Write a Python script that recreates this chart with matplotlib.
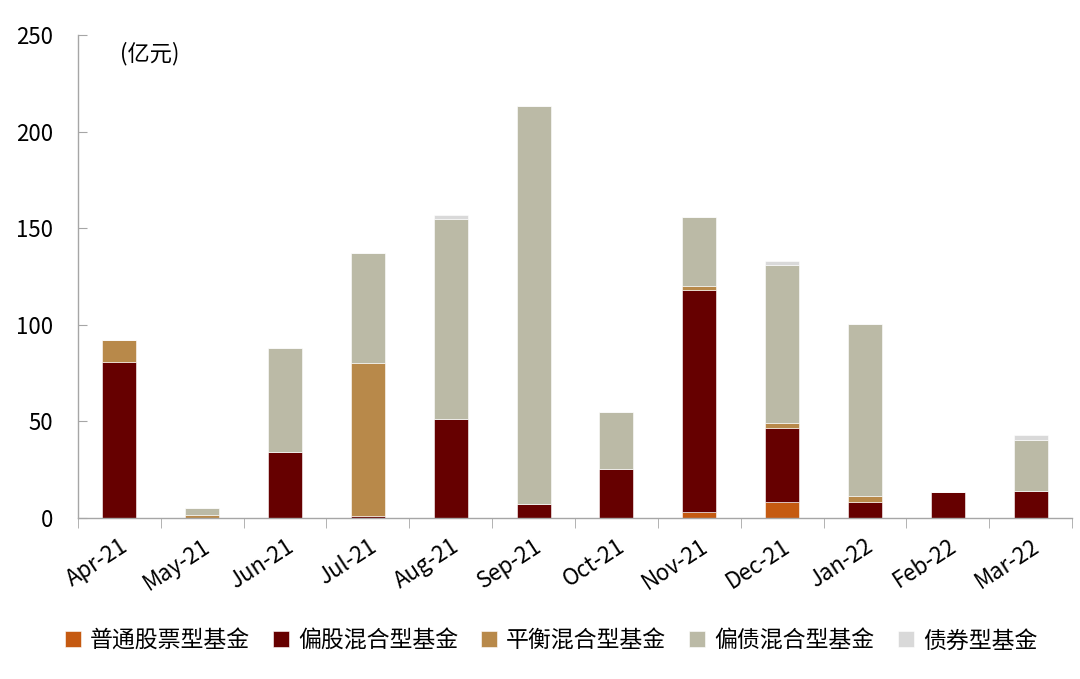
import matplotlib
matplotlib.use("Agg")
import matplotlib.pyplot as plt
import numpy as np

plt.rcParams['font.family'] = ['Noto Sans CJK SC', 'DejaVu Sans']

months = ["Apr-21", "May-21", "Jun-21", "Jul-21", "Aug-21", "Sep-21",
          "Oct-21", "Nov-21", "Dec-21", "Jan-22", "Feb-22", "Mar-22"]

# 亿元
stock_fund = [0, 0, 0, 0, 0, 0, 0, 3, 8.5, 0, 0, 0]
equity_mixed = [81, 0, 34, 1, 51, 7, 25.5, 115, 38, 8.3, 13.5, 14]
balanced_mixed = [11, 1.5, 0, 79, 0, 0, 0, 2, 2.5, 3, 0, 0]
bond_mixed = [0, 3.5, 54, 57, 104, 206, 29.5, 36, 82, 89, 0, 26.5]
bond_fund = [0, 0, 0, 0, 2, 0, 0, 0, 2, 0, 0, 2.3]

series = [
    ("普通股票型基金", stock_fund, "#C55A11"),
    ("偏股混合型基金", equity_mixed, "#660000"),
    ("平衡混合型基金", balanced_mixed, "#B8894A"),
    ("偏债混合型基金", bond_mixed, "#BBBAA6"),
    ("债券型基金", bond_fund, "#D9D9D9"),
]

fig = plt.figure(figsize=(10.8, 6.79), dpi=100)
ax = fig.add_axes([0.0722, 0.2371, 0.9204, 0.7114])

x = np.arange(len(months))
bottom = np.zeros(len(months))
for label, vals, color in series:
    vals = np.array(vals, dtype=float)
    ax.bar(x, vals, 0.41, bottom=bottom, color=color, label=label,
           edgecolor="white", linewidth=0.4)
    bottom += vals

ax.set_xlim(-0.5, len(months) - 0.5)
ax.set_ylim(0, 250)
ax.set_yticks([0, 50, 100, 150, 200, 250])
ax.tick_params(axis="y", direction="in", length=6.5, color="#A6A6A6",
               labelsize=16, pad=18)

# x ticks sit between categories
ax.set_xticks(x)
ax.set_xticklabels(months, rotation=33, ha="right", va="top",
                   rotation_mode="anchor", fontsize=16)
ax.tick_params(axis="x", length=0, pad=12)
ax.set_xticks(np.arange(-0.5, len(months)), minor=True)
ax.tick_params(axis="x", which="minor", direction="out", length=7, color="#A6A6A6")

for side in ["top", "right"]:
    ax.spines[side].set_visible(False)
for side in ["left", "bottom"]:
    ax.spines[side].set_color("#A6A6A6")
    ax.spines[side].set_linewidth(1)

ax.text(0.042, 0.985, "(亿元)", transform=ax.transAxes, fontsize=16,
        ha="left", va="top")

fig.legend(loc="center", bbox_to_anchor=(0.51, 0.056), ncol=5, frameon=False,
           fontsize=16.5, handlelength=0.7, handleheight=0.7, handletextpad=0.4,
           columnspacing=1.0)

fig.savefig("out.png", dpi=100)
